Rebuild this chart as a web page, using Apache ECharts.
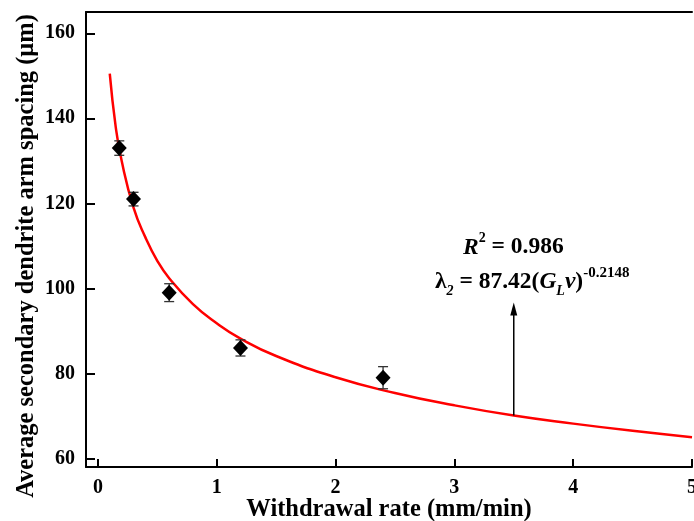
<!DOCTYPE html>
<html>
<head>
<meta charset="utf-8">
<script src="https://cdn.jsdelivr.net/npm/echarts@6/dist/echarts.min.js"></script>
<style>
  html, body { margin: 0; padding: 0; background: #fff; }
  #main { width: 694px; height: 521px; }
</style>
</head>
<body>
<div id="main"></div>
<script>
// measured points (withdrawal rate, spacing, error)
var rates = [0.18, 0.3, 0.6, 1.2, 2.4];
var spacing = [133, 121, 99, 86, 79];
var errors = [1.7, 1.6, 2.1, 1.9, 2.6];

// fitted curve
var fitX = [0.1, 0.15, 0.2, 0.3, 0.4, 0.5, 0.6, 0.8, 1.0, 1.2, 1.5, 2.0, 2.5, 3.0, 3.5, 4.0, 4.5, 5.0];
var fitY = [150.5, 138, 130, 119, 112, 106.5, 102.4, 96.3, 91.8, 88.2, 84.1, 79.1, 75.4, 72.5, 70.1, 68.2, 66.5, 65];

var xTicks = [0, 1, 2, 3, 4, 5];
var yTicks = [60, 80, 100, 120, 140, 160];

// arrow pointing at the fit line
var arrowX = 3.5;
var arrowFrom = 70.1;
var arrowTo = 96.7;

var serif = 'Liberation Serif';

var chart = echarts.init(document.getElementById('main'));

var points = rates.map(function (x, i) { return [x, spacing[i]]; });
var bars = rates.map(function (x, i) { return [x, spacing[i] - errors[i], spacing[i] + errors[i]]; });
var curve = fitX.map(function (x, i) { return [x, fitY[i]]; });

chart.setOption({
  backgroundColor: '#fff',
  animation: false,
  grid: { left: 86, right: 2, top: 12, bottom: 54, outerBoundsMode: 'none', containLabel: false },
  xAxis: [{
    type: 'value',
    min: -0.1,
    max: 5,
    name: 'Withdrawal rate (mm/min)',
    nameLocation: 'middle',
    nameGap: 30,
    nameMoveOverlap: false,
    nameTextStyle: { fontFamily: serif, fontWeight: 'bold', fontSize: 24.5, color: '#000' },
    axisLine: { onZero: false, lineStyle: { color: '#000', width: 2 } },
    axisTick: { inside: true, length: 8, lineStyle: { width: 2, color: '#000' }, customValues: xTicks },
    axisLabel: { margin: 11, fontFamily: serif, fontWeight: 'bold', fontSize: 20, color: '#000', customValues: xTicks, hideOverlap: false },
    splitLine: { show: false }
  }, {
    type: 'value',
    position: 'top',
    min: -0.1,
    max: 5,
    axisLine: { onZero: false, lineStyle: { color: '#000', width: 2 } },
    axisTick: { show: false },
    axisLabel: { show: false },
    splitLine: { show: false }
  }],
  yAxis: {
    type: 'value',
    min: 58,
    max: 165,
    axisLine: { show: true, onZero: false, lineStyle: { color: '#000', width: 2 } },
    axisTick: { inside: true, length: 9, lineStyle: { width: 2, color: '#000' }, customValues: yTicks },
    axisLabel: { margin: 11, fontFamily: serif, fontWeight: 'bold', fontSize: 20, color: '#000', customValues: yTicks },
    splitLine: { show: false }
  },
  graphic: [{
    type: 'text',
    x: 27,
    y: 256,
    rotation: Math.PI / 2,
    style: {
      text: 'Average secondary dendrite arm spacing (\u03bcm)',
      font: 'bold 24.5px "Liberation Serif"',
      fill: '#000',
      align: 'center',
      verticalAlign: 'middle'
    }
  }, {
    type: 'text',
    x: 463,
    y: 245,
    style: {
      text: '{i|R}{sup|2}{n| = 0.986}',
      fill: '#000',
      align: 'left',
      verticalAlign: 'middle',
      rich: {
        i: { font: 'italic bold 23.5px "Liberation Serif"', lineHeight: 28, verticalAlign: 'bottom' },
        sup: { font: 'bold 14px "Liberation Serif"', lineHeight: 28, verticalAlign: 'top' },
        n: { font: 'bold 23.5px "Liberation Serif"', lineHeight: 28, verticalAlign: 'bottom' }
      }
    }
  }, {
    type: 'text',
    x: 435,
    y: 282,
    style: {
      text: '{n|\u03bb}{sub|2}{n| = 87.42(}{i|G}{sub|L}{i|v}{n|)}{sup|-0.2148}',
      fill: '#000',
      align: 'left',
      verticalAlign: 'middle',
      rich: {
        n: { font: 'bold 23.5px "Liberation Serif"', lineHeight: 32, verticalAlign: 'middle' },
        i: { font: 'italic bold 23.5px "Liberation Serif"', lineHeight: 32, verticalAlign: 'middle' },
        sub: { font: 'italic bold 14px "Liberation Serif"', lineHeight: 32, verticalAlign: 'bottom' },
        sup: { font: 'bold 15px "Liberation Serif"', lineHeight: 32, verticalAlign: 'top' }
      }
    }
  }],
  series: [{
    name: 'fit',
    type: 'line',
    data: curve,
    smooth: true,
    symbol: 'none',
    lineStyle: { color: '#ff0000', width: 2.5 },
    z: 2
  }, {
    name: 'error',
    type: 'custom',
    data: bars,
    renderItem: function (params, api) {
      var x = api.value(0);
      var lo = api.coord([x, api.value(1)]);
      var hi = api.coord([x, api.value(2)]);
      var cap = 5;
      var st = { stroke: '#333', lineWidth: 1.3 };
      return {
        type: 'group',
        children: [
          { type: 'line', shape: { x1: lo[0], y1: lo[1], x2: hi[0], y2: hi[1] }, style: st },
          { type: 'line', shape: { x1: lo[0] - cap, y1: lo[1], x2: lo[0] + cap, y2: lo[1] }, style: st },
          { type: 'line', shape: { x1: hi[0] - cap, y1: hi[1], x2: hi[0] + cap, y2: hi[1] }, style: st }
        ]
      };
    },
    z: 3
  }, {
    name: 'measured',
    type: 'scatter',
    data: points,
    symbol: 'diamond',
    symbolSize: [15, 16],
    itemStyle: { color: '#000', opacity: 1 },
    z: 4
  }, {
    name: 'arrow',
    type: 'custom',
    data: [[arrowX, arrowFrom, arrowTo]],
    renderItem: function (params, api) {
      var a = api.coord([api.value(0), api.value(1)]);
      var b = api.coord([api.value(0), api.value(2)]);
      return {
        type: 'group',
        children: [
          { type: 'line', shape: { x1: a[0], y1: a[1], x2: b[0], y2: b[1] + 10 }, style: { stroke: '#000', lineWidth: 1.5 } },
          { type: 'polygon', shape: { points: [[b[0], b[1]], [b[0] - 3.5, b[1] + 13], [b[0] + 3.5, b[1] + 13]] }, style: { fill: '#000' } }
        ]
      };
    },
    z: 5
  }]
});
</script>
</body>
</html>
